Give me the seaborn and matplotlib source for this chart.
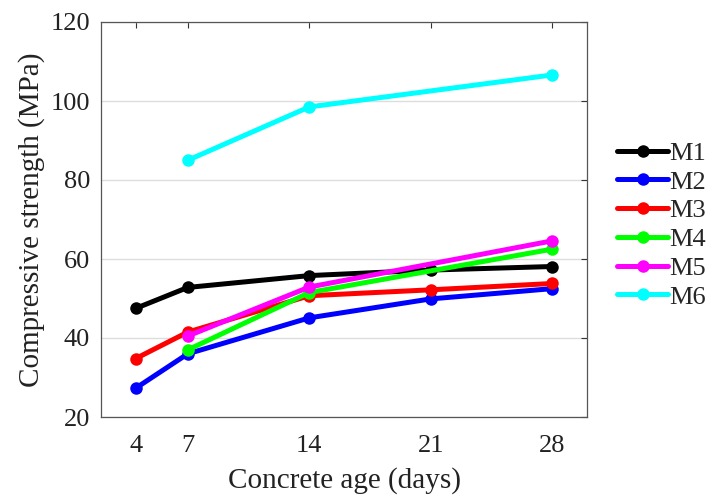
import matplotlib
matplotlib.use("Agg")
import matplotlib.pyplot as plt
import seaborn as sns
import pandas as pd

ages_m1 = [4, 7, 14, 21, 28]
m1 = [47.5, 52.8, 55.8, 57.2, 58.1]
ages_m2 = [4, 7, 14, 21, 28]
m2 = [27.3, 36.0, 45.1, 49.9, 52.5]
ages_m3 = [4, 7, 14, 21, 28]
m3 = [34.8, 41.5, 50.7, 52.2, 53.8]
ages_m4 = [7, 14, 28]
m4 = [37.0, 51.5, 62.5]
ages_m5 = [7, 14, 28]
m5 = [40.5, 52.9, 64.6]
ages_m6 = [7, 14, 28]
m6 = [85.0, 98.5, 106.6]

series_names = ["M1", "M2", "M3", "M4", "M5", "M6"]
colors = ["#000000", "#0000ff", "#ff0000", "#00ff00", "#ff00ff", "#00ffff"]
xticks = [4, 7, 14, 21, 28]
yticks = [20, 40, 60, 80, 100, 120]

rows = []
for name, xs, ys in zip(series_names,
                        [ages_m1, ages_m2, ages_m3, ages_m4, ages_m5, ages_m6],
                        [m1, m2, m3, m4, m5, m6]):
    for x, y in zip(xs, ys):
        rows.append({"age": x, "strength": y, "mix": name})
df = pd.DataFrame(rows)

sns.set_style("white")
plt.rcParams["font.family"] = ["Liberation Serif", "DejaVu Serif"]

fig = plt.figure(figsize=(7.17, 5.03), dpi=100)
ax = fig.add_axes([101/717, 1 - 417/503, (587-101)/717, (417-22)/503])

sns.lineplot(data=df, x="age", y="strength", hue="mix", hue_order=series_names,
             palette=colors, marker="o", markersize=9, linewidth=3.6,
             markeredgewidth=0, ax=ax, sort=True)

ax.set_xlim(2, 30)
ax.set_ylim(20, 120)
ax.set_xticks(xticks)
ax.set_yticks(yticks)
ax.yaxis.grid(True, color="#dddddd", linewidth=1)
ax.xaxis.grid(False)
ax.tick_params(direction="in", top=True, right=True, length=4, width=0.8,
               labelsize=19, colors="#333333", labelcolor="#222222")
ax.tick_params(axis="x", pad=13)
ax.tick_params(axis="y", pad=8)
for s in ax.spines.values():
    s.set_visible(True)
    s.set_color("#555555")
    s.set_linewidth(0.9)
ax.set_xlabel("Concrete age (days)", fontsize=21, color="#222222", labelpad=7)
ax.set_ylabel("Compressive strength (MPa)", fontsize=21, color="#222222", labelpad=4)

ax.legend(loc="center left", bbox_to_anchor=(1.041, 0.486), frameon=False,
          fontsize=19, handlelength=1.9, labelspacing=0.2, handletextpad=0.05,
          borderaxespad=0)

fig.savefig("out.png", dpi=100)
